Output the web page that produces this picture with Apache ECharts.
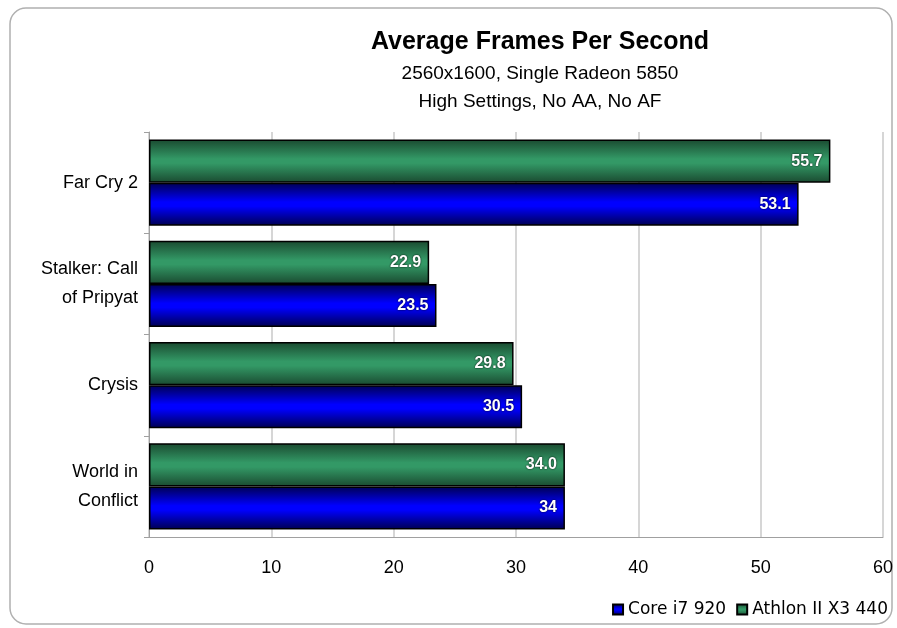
<!DOCTYPE html>
<html>
<head>
<meta charset="utf-8">
<script src="https://cdn.jsdelivr.net/npm/echarts@6/dist/echarts.min.js"></script>
<style>
  html, body { margin: 0; padding: 0; background: #fff; }
  #chart { width: 897px; height: 628px; }
</style>
</head>
<body>
<div id="chart"></div>
<script>
const games = ['Far Cry 2', 'Stalker: Call\nof Pripyat', 'Crysis', 'World in\nConflict'];
const athlonFps = [55.7, 22.9, 29.8, 34.0];
const coreFps = [53.1, 23.5, 30.5, 34];
const xTicks = [0, 10, 20, 30, 40, 50, 60];

const chartDom = document.getElementById('chart');
const myChart = echarts.init(chartDom);

function barGradient(edge, mid) {
  return new echarts.graphic.LinearGradient(0, 0, 0, 1, [
    { offset: 0, color: edge },
    { offset: 0.45, color: mid },
    { offset: 0.55, color: mid },
    { offset: 1, color: edge }
  ]);
}

const font = 'Arial, "Liberation Sans", sans-serif';

const option = {
  animation: false,
  graphic: [{
    type: 'rect',
    shape: { x: 10, y: 8, width: 882, height: 616, r: 16 },
    style: { fill: 'none', stroke: '#b0b0b0', lineWidth: 1.5 },
    z: -1
  }],
  title: [
    { text: 'Average Frames Per Second', left: 535, top: 25, textAlign: 'center',
      textStyle: { fontFamily: font, fontSize: 25, fontWeight: 'bold', color: '#000' } },
    { text: '2560x1600, Single Radeon 5850\nHigh Settings, No AA, No AF', left: 535, top: 55, textAlign: 'center',
      textStyle: { fontFamily: font, fontSize: 19, fontWeight: 'normal', color: '#000', lineHeight: 28 } }
  ],
  legend: {
    data: ['Core i7 920', 'Athlon II X3 440'],
    right: 4,
    bottom: 5,
    itemWidth: 10,
    itemHeight: 10,
    itemGap: 10,
    icon: 'rect',
    textStyle: { fontFamily: 'Tahoma, "DejaVu Sans", sans-serif', fontSize: 17, color: '#000', padding: [0, 0, 0, 0] }
  },
  grid: { left: 149, right: 14, top: 132, bottom: 91 },
  xAxis: {
    type: 'value',
    min: 0, max: 60, interval: 10,
    axisLine: { show: true, lineStyle: { color: '#a0a0a0' } },
    axisTick: { show: false },
    splitLine: { show: true, lineStyle: { color: '#c8c8c8', width: 1.5 } },
    axisLabel: { fontFamily: font, fontSize: 18, color: '#000', margin: 22,
      formatter: v => xTicks.includes(v) ? String(v) : '' }
  },
  yAxis: {
    type: 'category',
    data: games,
    inverse: true,
    axisLine: { show: true, lineStyle: { color: '#a0a0a0' } },
    axisTick: { show: true, length: 5, lineStyle: { color: '#a0a0a0' } },
    axisLabel: { fontFamily: font, fontSize: 18, color: '#000', margin: 11, lineHeight: 29, align: 'right' }
  },
  series: [
    {
      name: 'Athlon II X3 440',
      type: 'bar',
      data: athlonFps,
      barGap: '0%',
      barCategoryGap: '15%',
      itemStyle: { color: barGradient('#1a4a30', '#339966'), borderColor: '#000', borderWidth: 1.5 },
      label: {
        show: true, position: 'insideRight', distance: 8,
        formatter: p => p.value.toFixed(1),
        color: '#fff', fontFamily: font, fontSize: 16, fontWeight: 'bold',
        textShadowColor: '#000', textShadowBlur: 2
      }
    },
    {
      name: 'Core i7 920',
      type: 'bar',
      data: coreFps,
      barGap: '0%',
      barCategoryGap: '15%',
      itemStyle: { color: barGradient('#000050', '#0000ff'), borderColor: '#000', borderWidth: 1.5 },
      label: {
        show: true, position: 'insideRight', distance: 8,
        formatter: p => String(p.value),
        color: '#fff', fontFamily: font, fontSize: 16, fontWeight: 'bold',
        textShadowColor: '#000', textShadowBlur: 2
      }
    }
  ]
};

myChart.setOption(option);
window.addEventListener('resize', () => myChart.resize());
</script>
</body>
</html>
